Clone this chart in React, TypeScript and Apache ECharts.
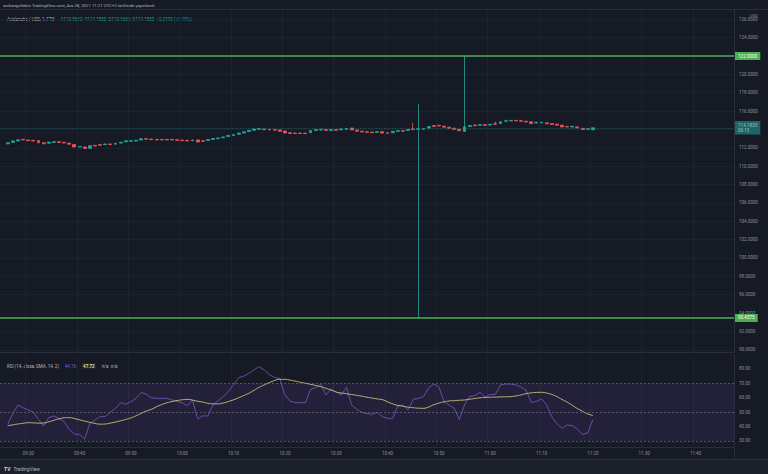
import React, { useEffect, useRef } from 'react';
import * as echarts from 'echarts';

// ---- data ----
const startHour = 9;
const startMinute = 25;
const slotCount = 143; // 09:25 .. 11:47 (one slot per 1-minute bar)
const firstCandleSlot = 1; // first bar is 09:26

const timeLabels = ['09:30', '09:40', '09:50', '10:00', '10:10', '10:20', '10:30', '10:40', '10:50', '11:00', '11:10', '11:20', '11:30', '11:40'];
const priceTicks = [90, 92, 94, 96, 98, 100, 102, 104, 106, 108, 110, 112, 114, 116, 118, 120, 122, 124, 126];
const priceTickLabels = [90, 92, 94, 96, 98, 100, 102, 104, 106, 108, 110, 112, 116, 118, 120, 124, 126]; // 114 and 122 are hidden under the price tags
const rsiTicks = [30, 40, 50, 60, 70, 80];

const resistanceLevel = 122.0;
const supportLevel = 93.4575;
const lastPrice = 114.183;
const countdown = '00:15';

// [open, close, low, high]
const candles: number[][] = [
  [112.43, 112.55, 112.40, 112.58],
  [112.59, 112.75, 112.56, 112.78],
  [112.75, 112.87, 112.72, 112.90],
  [112.93, 112.85, 112.82, 112.96],
  [112.85, 112.77, 112.74, 112.88],
  [112.82, 112.74, 112.71, 112.85],
  [112.79, 112.55, 112.52, 112.82],
  [112.55, 112.43, 112.40, 112.58],
  [112.50, 112.62, 112.47, 112.65],
  [112.59, 112.67, 112.56, 112.70],
  [112.67, 112.59, 112.56, 112.70],
  [112.60, 112.52, 112.49, 112.63],
  [112.51, 112.39, 112.36, 112.54],
  [112.37, 112.09, 112.06, 112.40],
  [112.09, 112.15, 112.05, 112.19],
  [112.09, 111.93, 111.90, 112.12],
  [111.95, 112.23, 111.92, 112.26],
  [112.27, 112.19, 112.16, 112.30],
  [112.34, 112.28, 112.25, 112.37],
  [112.34, 112.42, 112.31, 112.45],
  [112.41, 112.35, 112.32, 112.44],
  [112.40, 112.50, 112.37, 112.53],
  [112.51, 112.61, 112.48, 112.64],
  [112.65, 112.77, 112.62, 112.80],
  [112.70, 112.78, 112.67, 112.81],
  [112.74, 112.82, 112.71, 112.85],
  [112.85, 112.99, 112.82, 113.02],
  [112.99, 112.93, 112.90, 113.02],
  [112.95, 112.89, 112.86, 112.98],
  [112.92, 112.86, 112.83, 112.95],
  [112.92, 112.86, 112.83, 112.95],
  [112.92, 112.86, 112.83, 112.95],
  [112.92, 112.86, 112.83, 112.95],
  [112.88, 112.82, 112.79, 112.91],
  [112.84, 112.78, 112.75, 112.87],
  [112.81, 112.75, 112.72, 112.84],
  [112.77, 112.85, 112.74, 112.88],
  [112.86, 112.62, 112.59, 112.89],
  [112.78, 112.70, 112.66, 112.81],
  [112.80, 112.90, 112.77, 112.93],
  [112.91, 113.01, 112.88, 113.04],
  [112.99, 113.07, 112.96, 113.10],
  [113.09, 113.19, 113.06, 113.22],
  [113.23, 113.35, 113.20, 113.38],
  [113.34, 113.44, 113.31, 113.47],
  [113.47, 113.61, 113.44, 113.64],
  [113.62, 113.74, 113.59, 113.77],
  [113.76, 113.90, 113.73, 113.93],
  [113.91, 114.05, 113.88, 114.08],
  [114.01, 114.09, 113.98, 114.12],
  [114.05, 113.97, 113.94, 114.08],
  [114.01, 113.95, 113.92, 114.04],
  [113.97, 113.91, 113.88, 114.00],
  [113.95, 113.79, 113.76, 113.98],
  [113.82, 113.62, 113.59, 113.85],
  [113.65, 113.57, 113.54, 113.68],
  [113.61, 113.55, 113.52, 113.64],
  [113.61, 113.55, 113.52, 113.64],
  [113.61, 113.55, 113.52, 113.64],
  [113.64, 113.88, 113.61, 113.91],
  [113.89, 113.99, 113.86, 114.02],
  [113.94, 114.02, 113.91, 114.05],
  [113.99, 113.89, 113.86, 114.02],
  [113.89, 113.99, 113.86, 114.02],
  [113.98, 113.90, 113.87, 114.01],
  [113.96, 114.06, 113.93, 114.09],
  [114.00, 114.10, 113.97, 114.13],
  [114.15, 113.95, 113.92, 114.18],
  [113.93, 113.81, 113.78, 113.96],
  [113.80, 113.72, 113.69, 113.83],
  [113.75, 113.69, 113.66, 113.78],
  [113.71, 113.65, 113.62, 113.74],
  [113.68, 113.76, 113.65, 113.79],
  [113.76, 113.60, 113.57, 113.79],
  [113.64, 113.58, 113.55, 113.67],
  [113.64, 113.80, 113.61, 113.83],
  [113.79, 113.87, 113.76, 113.90],
  [113.86, 113.80, 113.77, 113.89],
  [113.88, 114.00, 113.85, 114.03],
  [114.04, 113.98, 113.95, 114.72],
  [114.02, 114.08, 93.4575, 116.80],
  [114.02, 114.08, 113.99, 114.11],
  [114.15, 114.31, 114.12, 114.34],
  [114.42, 114.32, 114.29, 114.45],
  [114.45, 114.37, 114.34, 114.48],
  [114.36, 114.24, 114.21, 114.39],
  [114.25, 114.13, 114.10, 114.28],
  [114.14, 114.02, 113.99, 114.17],
  [114.02, 113.86, 113.83, 114.05],
  [113.78, 114.28, 113.75, 122.00],
  [114.32, 114.42, 114.29, 114.45],
  [114.49, 114.41, 114.38, 114.52],
  [114.44, 114.52, 114.41, 114.55],
  [114.52, 114.44, 114.41, 114.55],
  [114.48, 114.56, 114.45, 114.59],
  [114.62, 114.56, 114.53, 114.85],
  [114.64, 114.84, 114.61, 114.87],
  [114.89, 114.95, 114.86, 115.05],
  [114.93, 114.99, 114.90, 115.02],
  [114.99, 114.93, 114.90, 115.02],
  [114.96, 114.88, 114.85, 114.99],
  [114.90, 114.80, 114.77, 114.93],
  [114.84, 114.64, 114.61, 114.87],
  [114.70, 114.78, 114.67, 114.81],
  [114.70, 114.78, 114.67, 114.81],
  [114.72, 114.62, 114.59, 114.75],
  [114.64, 114.54, 114.51, 114.67],
  [114.57, 114.47, 114.44, 114.60],
  [114.47, 114.27, 114.24, 114.50],
  [114.33, 114.27, 114.24, 114.36],
  [114.26, 114.34, 114.23, 114.37],
  [114.28, 114.18, 114.15, 114.31],
  [114.11, 113.99, 113.96, 114.14],
  [114.02, 114.08, 113.99, 114.11],
  [113.964, 114.183, 113.963, 114.183],
];

const rsiValues = [
  41.6, 49.0, 55.0, 53.0, 51.5, 50.0, 45.0, 40.4, 46.2, 47.4,
  45.5, 43.4, 38.0, 34.9, 34.5, 31.4, 42.3, 44.5, 46.9, 46.9,
  50.0, 52.7, 56.6, 55.5, 57.3, 59.6, 63.6, 62.5, 60.0, 59.6,
  59.6, 59.6, 58.5, 57.5, 56.6, 54.5, 58.5, 45.3, 47.4, 47.4,
  55.0, 58.0, 60.8, 64.5, 68.9, 74.0, 75.0, 77.0, 79.5, 81.6,
  79.3, 76.0, 74.0, 73.5, 62.0, 57.8, 56.6, 56.6, 56.6, 65.9,
  67.0, 69.4, 62.0, 66.1, 64.0, 62.0, 67.3, 55.0, 52.0, 49.9,
  49.0, 48.5, 49.9, 46.9, 45.7, 45.7, 54.5, 55.0, 51.5, 58.9,
  59.6, 60.8, 67.0, 69.4, 67.7, 57.3, 55.0, 52.7, 45.0, 55.0,
  61.0, 61.5, 63.8, 60.5, 62.3, 62.3, 68.9, 69.6, 69.5, 68.9,
  67.5, 65.3, 56.8, 57.5, 59.2, 55.0, 46.9, 42.0, 38.8, 41.1,
  40.6, 38.3, 34.6, 35.6, 44.76,
];

const rsiMaValues = [
  40.6, 41.2, 41.8, 42.3, 42.7, 42.6, 42.4, 42.5, 43.3, 44.4,
  45.4, 46.1, 46.2, 45.6, 44.7, 43.8, 43.0, 42.2, 41.7, 41.8,
  42.4, 43.2, 44.0, 45.0, 46.0, 47.5, 49.2, 50.8, 52.0, 53.8,
  55.3, 56.5, 57.4, 58.1, 58.6, 58.9, 58.4, 57.6, 57.0, 56.2,
  55.8, 55.8, 56.4, 57.4, 58.6, 60.0, 61.6, 63.2, 65.2, 67.3,
  69.0, 70.6, 72.0, 72.8, 72.8, 72.3, 71.6, 70.8, 70.1, 69.4,
  68.5, 67.7, 66.6, 65.4, 64.0, 63.4, 62.8, 62.3, 61.7, 61.1,
  60.4, 59.8, 59.2, 58.7, 57.2, 55.8, 54.7, 54.1, 53.5, 53.1,
  52.8, 52.7, 53.6, 55.2, 56.3, 57.2, 57.8, 58.0, 58.3, 58.5,
  59.0, 59.5, 60.0, 60.2, 60.4, 60.5, 60.6, 60.7, 60.8, 61.3,
  62.0, 62.9, 63.4, 63.7, 63.8, 63.3, 62.3, 60.8, 58.8, 57.0,
  54.8, 52.5, 50.6, 48.8, 47.72,
];

// ---- helpers ----
const pad2 = (n: number) => String(n).padStart(2, '0');
const slots: string[] = [];
for (let k = 0; k < slotCount; k++) {
  const t = startHour * 60 + startMinute + k;
  slots.push(`${pad2(Math.floor(t / 60))}:${pad2(t % 60)}`);
}

const FONT = 'Roboto, "Noto Sans", "DejaVu Sans", sans-serif';
const BG = '#161a25';
const GRID = '#1e2230';
const BORDER = '#2a2e39';
const LABEL = '#8f929b';
const UP = '#26a69a';
const DOWN = '#ef5350';
const LEVEL = '#4caf50';

export default function App() {
  const ref = useRef<HTMLDivElement>(null);

  useEffect(() => {
    if (!ref.current) return;
    const chart = echarts.init(ref.current, undefined, { renderer: 'svg' });

    const candleData = candles.map((c, i) => [slots[i + firstCandleSlot], c[0], c[1], c[2], c[3]]);
    const rsiData = rsiValues.map((v, i) => [slots[i + firstCandleSlot], v]);
    const maData = rsiMaValues.map((v, i) => [slots[i + firstCandleSlot], v]);
    const isTimeLabel = (_i: number, v: string) => timeLabels.includes(v);

    const levelLabel = (bg: string, text: string) => ({
      show: true,
      position: 'end',
      distance: 1,
      formatter: text,
      backgroundColor: bg,
      color: '#ffffff',
      fontSize: 4.6,
      lineHeight: 5.5,
      fontFamily: FONT,
      padding: [1.5, 3, 1, 3],
    });

    const option: any = {
      animation: false,
      backgroundColor: BG,
      textStyle: { fontFamily: FONT },
      grid: [
        { left: 0, right: 34, top: 10, height: 342 },
        { left: 0, right: 34, top: 355, height: 92 },
      ],
      xAxis: [
        {
          type: 'category',
          gridIndex: 0,
          data: slots,
          boundaryGap: true,
          axisLine: { show: true, lineStyle: { color: BORDER, width: 1 } },
          axisTick: { show: false },
          axisLabel: { show: false },
          splitLine: { show: true, interval: isTimeLabel, lineStyle: { color: GRID, width: 1 } },
        },
        {
          type: 'category',
          gridIndex: 1,
          data: slots,
          boundaryGap: true,
          axisLine: { show: true, lineStyle: { color: BORDER, width: 1 } },
          axisTick: { show: false },
          axisLabel: {
            show: true,
            interval: isTimeLabel,
            color: LABEL,
            fontSize: 4.5,
            margin: 4,
            fontFamily: FONT,
          },
          splitLine: { show: true, interval: isTimeLabel, lineStyle: { color: GRID, width: 1 } },
        },
      ],
      yAxis: [
        {
          type: 'value',
          gridIndex: 0,
          position: 'right',
          min: 89.756,
          max: 127.011,
          axisLine: { show: true, lineStyle: { color: BORDER, width: 1 } },
          axisTick: { show: false, customValues: priceTicks },
          axisLabel: {
            customValues: priceTickLabels,
            formatter: (v: number) => v.toFixed(4),
            color: LABEL,
            fontSize: 4.5,
            margin: 5,
            fontFamily: FONT,
          },
          splitLine: { show: true, lineStyle: { color: GRID, width: 1 } },
        },
        {
          type: 'value',
          gridIndex: 1,
          position: 'right',
          min: 25.83,
          max: 89.72,
          axisLine: { show: true, lineStyle: { color: BORDER, width: 1 } },
          axisTick: { show: false, customValues: rsiTicks },
          axisLabel: {
            customValues: rsiTicks,
            formatter: (v: number) => v.toFixed(2),
            color: LABEL,
            fontSize: 4.5,
            margin: 5,
            fontFamily: FONT,
          },
          splitLine: { show: false },
        },
      ],
      series: [
        {
          type: 'candlestick',
          xAxisIndex: 0,
          yAxisIndex: 0,
          data: candleData,
          encode: { x: 0, y: [1, 2, 3, 4] },
          barWidth: 3.4,
          itemStyle: {
            color: UP,
            color0: DOWN,
            borderColor: UP,
            borderColor0: DOWN,
            borderWidth: 0.8,
          },
          markLine: {
            silent: true,
            symbol: ['none', 'none'],
            animation: false,
            data: [
              {
                yAxis: lastPrice,
                lineStyle: { color: UP, type: 'dotted', width: 0.8, opacity: 0.55 },
                label: levelLabel(UP, lastPrice.toFixed(4) + '\n' + countdown),
              },
              {
                yAxis: resistanceLevel,
                lineStyle: { color: LEVEL, type: 'solid', width: 1.5 },
                label: levelLabel(LEVEL, resistanceLevel.toFixed(4)),
              },
              {
                yAxis: supportLevel,
                lineStyle: { color: LEVEL, type: 'solid', width: 1.5 },
                label: levelLabel(LEVEL, supportLevel.toFixed(4)),
              },
            ],
          },
        },
        {
          type: 'line',
          name: 'RSI',
          xAxisIndex: 1,
          yAxisIndex: 1,
          data: rsiData,
          symbol: 'none',
          lineStyle: { color: '#7e57c2', width: 0.8 },
          z: 3,
          markArea: {
            silent: true,
            itemStyle: { color: 'rgba(126, 87, 194, 0.13)' },
            data: [[{ yAxis: 70 }, { yAxis: 30 }]],
          },
          markLine: {
            silent: true,
            symbol: ['none', 'none'],
            label: { show: false },
            lineStyle: { color: '#787b86', type: [2, 2], width: 0.6 },
            data: [{ yAxis: 70 }, { yAxis: 50 }, { yAxis: 30 }],
          },
        },
        {
          type: 'line',
          name: 'RSI MA',
          xAxisIndex: 1,
          yAxisIndex: 1,
          data: maData,
          symbol: 'none',
          smooth: true,
          lineStyle: { color: '#e3d67f', width: 0.8 },
          z: 4,
        },
      ],
      graphic: [
        { type: 'rect', left: 0, top: 459, shape: { width: 768, height: 15 }, style: { fill: '#1c202b' }, silent: true },
        { type: 'line', shape: { x1: 0, y1: 9.5, x2: 768, y2: 9.5 }, style: { stroke: BORDER, lineWidth: 1 }, silent: true },
        { type: 'line', shape: { x1: 0, y1: 459.5, x2: 768, y2: 459.5 }, style: { stroke: BORDER, lineWidth: 1 }, silent: true },
        { type: 'line', shape: { x1: 734.5, y1: 447, x2: 734.5, y2: 459 }, style: { stroke: BORDER, lineWidth: 1 }, silent: true },
        {
          type: 'text',
          left: 3,
          top: 3,
          style: {
            text: 'serkangultekin TradingView.com, Ara 28, 2021 11:21 UTC+2 tarihinde yayınlandı',
            fill: '#b2b5be',
            fontSize: 4.3,
            fontFamily: FONT,
          },
        },
        {
          type: 'text',
          left: 7,
          top: 13.5,
          style: {
            text: '{t|Avalanche / USD, 1, FTX}  {v|A113.9640  Y114.1830  D113.9630  K114.1830  +0.2190 (+0.19%)}',
            fontFamily: FONT,
            rich: {
              t: { fill: '#b2b5be', fontSize: 4.5, fontFamily: FONT },
              v: { fill: UP, fontSize: 4.5, fontFamily: FONT },
            },
          },
        },
        {
          type: 'text',
          left: 7,
          top: 360,
          style: {
            text: '{t|RSI (14, close, SMA, 14, 2)}  {a|44.76}  {b|47.72}  {t|n/a  n/a}',
            fontFamily: FONT,
            rich: {
              t: { fill: '#b2b5be', fontSize: 4.5, fontFamily: FONT },
              a: { fill: '#7e57c2', fontSize: 4.5, fontFamily: FONT },
              b: { fill: '#e3d67f', fontSize: 4.5, fontWeight: 'bold', fontFamily: FONT, backgroundColor: '#2a2a2a', padding: [0, 1] },
            },
          },
        },
        {
          type: 'text',
          left: 750,
          top: 13,
          style: { text: 'USD', fill: LABEL, fontSize: 4, fontFamily: FONT },
        },
        {
          type: 'text',
          left: 4,
          top: 463,
          style: {
            text: '{l|TV} {t|TradingView}',
            fontFamily: FONT,
            rich: {
              l: { fill: '#d1d4dc', fontSize: 5, fontWeight: 'bold', fontFamily: FONT },
              t: { fill: '#b2b5be', fontSize: 4.8, fontFamily: FONT },
            },
          },
        },
      ],
    };

    chart.setOption(option);
    return () => chart.dispose();
  }, []);

  return (
    <div style={{ position: 'fixed', left: 0, top: 0, width: 768, height: 474, background: BG }}>
      <div ref={ref} style={{ width: 768, height: 474 }} />
    </div>
  );
}
